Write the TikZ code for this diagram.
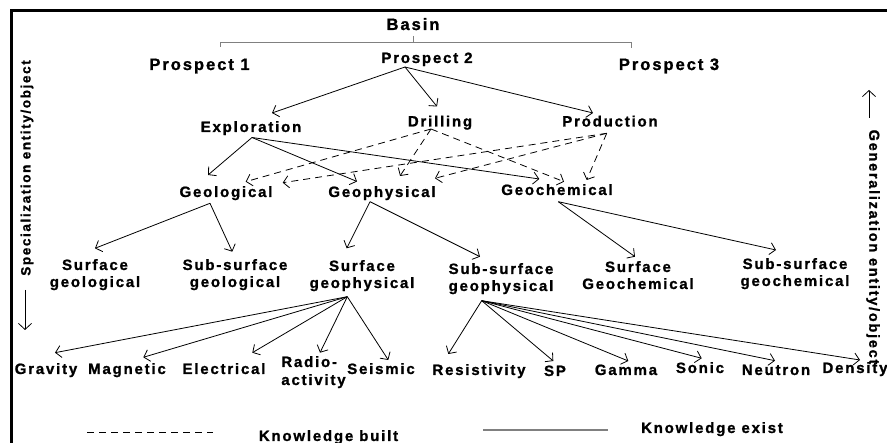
\documentclass[tikz,border=0pt]{standalone}
\usepackage{fontspec}
\setmainfont{Liberation Sans}[LetterSpace=12, BoldFeatures={FakeBold=1.2}]
\usetikzlibrary{arrows.meta}
\begin{document}
\begin{tikzpicture}[x=1pt,y=-1pt,
  lbl/.style={anchor=base, inner sep=0pt, align=center,
    font=\fontsize{15}{17}\selectfont\bfseries},
  big/.style={lbl, font=\fontsize{16.5}{19}\selectfont\bfseries},
  side/.style={inner sep=0pt, font=\fontsize{13.5}{16}\selectfont\bfseries},
  arr/.style={line width=0.8pt, -{Straight Barb[length=5.5pt,width=12pt]}},
  built/.style={arr, dash pattern=on 7pt off 5pt},
  brace/.style={line width=1pt, gray},
  frame/.style={line width=3pt},
]
\useasboundingbox (0,0) rectangle (887,443);

% frame
\draw[frame] (887,11) -- (11.5,11) -- (11.5,443);

% basin and its prospects
\node[big] (basin) at (413,30) {Basin};
\draw[brace] (220,47) -- (220,43) -- (631,43) -- (631,48) (413,36) -- (413,43);
\node[big] (p1) at (199.5,70) {Prospect 1};
\node[lbl] (p2) at (427,63) {Prospect 2};
\node[big] (p3) at (669,70) {Prospect 3};

% activities
\node[lbl] (expl) at (251,132) {Exploration};
\node[lbl] (drill) at (440,126.5) {Drilling};
\node[lbl] (prod) at (610,126.5) {Production};

% disciplines
\node[lbl] (geol) at (226,197) {Geological};
\node[lbl] (geop) at (382,197) {Geophysical};
\node[lbl] (geoc) at (557,195) {Geochemical};

% sub-disciplines (base is the baseline of the second line)
\node[lbl] (sgeol) at (95,287) {Surface\\geological};
\node[lbl] (ssgeol) at (235,287) {Sub-surface\\geological};
\node[lbl] (sgeop) at (362,288) {Surface\\geophysical};
\node[lbl] (ssgeop) at (501,291) {Sub-surface\\geophysical};
\node[lbl] (sgeoc) at (638,289) {Surface\\Geochemical};
\node[lbl] (ssgeoc) at (795,286) {Sub-surface\\geochemical};

% methods
\node[lbl] (grav) at (46,374) {Gravity};
\node[lbl] (magn) at (127,374) {Magnetic};
\node[lbl] (elec) at (224,374) {Electrical};
\node[lbl, align=left, font=\fontsize{15}{18}\selectfont\bfseries] (radio) at (313.5,385) {Radio-\\activity};
\node[lbl] (seis) at (381,374) {Seismic};
\node[lbl] (resi) at (479,375) {Resistivity};
\node[lbl] (sp) at (555,376) {SP};
\node[lbl] (gamma) at (626,375) {Gamma};
\node[lbl] (sonic) at (700,373) {Sonic};
\node[lbl] (neut) at (776,375) {Neutron};
\node[lbl] (dens) at (855,373) {Density};

% side labels
\node[side, rotate=90] (spec) at (27,168) {Specialization entity/object};
\node[side, rotate=-90, font=\fontsize{14.5}{17}\selectfont\bfseries] (gen) at (873,247) {Generalization entity/object};
\coordinate (dnA) at (25,290);
\coordinate (dnB) at (25,330);
\coordinate (upA) at (869,118);
\coordinate (upB) at (869,90);
\draw[line width=0.8pt, -{Straight Barb[length=6pt,width=13pt]}] (dnA) -- (dnB);
\draw[line width=0.8pt, -{Straight Barb[length=6pt,width=13pt]}] (upA) -- (upB);

% prospect to activities
\draw[arr] ([shift={(-22,4)}]p2.base) -- ([shift={(21,-19)}]expl.base);
\draw[arr] ([shift={(-22,4)}]p2.base) -- ([shift={(-3,-20)}]drill.base);
\draw[arr] ([shift={(-22,4)}]p2.base) -- ([shift={(-17,-13.5)}]prod.base);

% exploration to disciplines
\draw[arr] ([shift={(1,5.5)}]expl.base) -- ([shift={(-18,-22)}]geol.base);
\draw[arr] ([shift={(1,5.5)}]expl.base) -- ([shift={(-25,-15.5)}]geop.base);
\draw[arr] ([shift={(1,5.5)}]expl.base) -- ([shift={(-17.7,-16)}]geoc.base);

% drilling and production build on the disciplines
\draw[built] ([shift={(-9,2.5)}]drill.base) -- ([shift={(19.7,-15.3)}]geol.base);
\draw[built] ([shift={(-9,2.5)}]drill.base) -- ([shift={(18,-21)}]geop.base);
\draw[built] ([shift={(-9,2.5)}]drill.base) -- ([shift={(7,-13.3)}]geoc.base);
\draw[built] ([shift={(-3.3,6.8)}]prod.base) -- ([shift={(56.7,-14.3)}]geol.base);
\draw[built] ([shift={(-3.3,6.8)}]prod.base) -- ([shift={(53,-18.7)}]geop.base);
\draw[built] ([shift={(-3.3,6.8)}]prod.base) -- ([shift={(29.7,-15)}]geoc.base);

% disciplines to sub-disciplines
\draw[arr] ([shift={(-16,6.3)}]geol.base) -- ([shift={(0,-38.7)}]sgeol.base);
\draw[arr] ([shift={(-16,6.3)}]geol.base) -- ([shift={(-2.7,-35.3)}]ssgeol.base);
\draw[arr] ([shift={(-12,4.7)}]geop.base) -- ([shift={(-15.3,-39.7)}]sgeop.base);
\draw[arr] ([shift={(-12,4.7)}]geop.base) -- ([shift={(-21,-34.3)}]ssgeop.base);
\draw[arr] ([shift={(1.3,6.7)}]geoc.base) -- ([shift={(-3,-32.3)}]sgeoc.base);
\draw[arr] ([shift={(1.3,6.7)}]geoc.base) -- ([shift={(-19,-36)}]ssgeoc.base);

% surface geophysical methods
\draw[arr] ([shift={(-14.7,8.7)}]sgeop.base) -- ([shift={(9,-21.3)}]grav.base);
\draw[arr] ([shift={(-14.7,8.7)}]sgeop.base) -- ([shift={(16.3,-16.7)}]magn.base);
\draw[arr] ([shift={(-14.7,8.7)}]sgeop.base) -- ([shift={(28.3,-21.3)}]elec.base);
\draw[arr] ([shift={(-14.7,8.7)}]sgeop.base) -- ([shift={(6.5,-32.3)}]radio.base);
\draw[arr] ([shift={(-14.7,8.7)}]sgeop.base) -- ([shift={(7.3,-14)}]seis.base);

% sub-surface geophysical methods
\draw[arr] ([shift={(-19.3,9.7)}]ssgeop.base) -- ([shift={(-30.7,-21)}]resi.base);
\draw[arr] ([shift={(-19.3,9.7)}]ssgeop.base) -- ([shift={(-1.7,-15)}]sp.base);
\draw[arr] ([shift={(-19.3,9.7)}]ssgeop.base) -- ([shift={(2.3,-14)}]gamma.base);
\draw[arr] ([shift={(-19.3,9.7)}]ssgeop.base) -- ([shift={(1.7,-14.7)}]sonic.base);
\draw[arr] ([shift={(-19.3,9.7)}]ssgeop.base) -- ([shift={(-1,-14.3)}]neut.base);
\draw[arr] ([shift={(-19.3,9.7)}]ssgeop.base) -- ([shift={(5,-13)}]dens.base);

% legend
\coordinate (kbA) at (87,432);
\coordinate (kbB) at (213,432);
\coordinate (keA) at (483,430);
\coordinate (keB) at (608,430);
\draw[line width=0.8pt, dash pattern=on 7pt off 5pt] (kbA) -- (kbB);
\draw[line width=1.2pt, gray] (keA) -- (keB);
\node[lbl] (kbuilt) at (328.5,441) {Knowledge built};
\node[lbl] (kexist) at (712,433) {Knowledge exist};
\end{tikzpicture}
\end{document}
